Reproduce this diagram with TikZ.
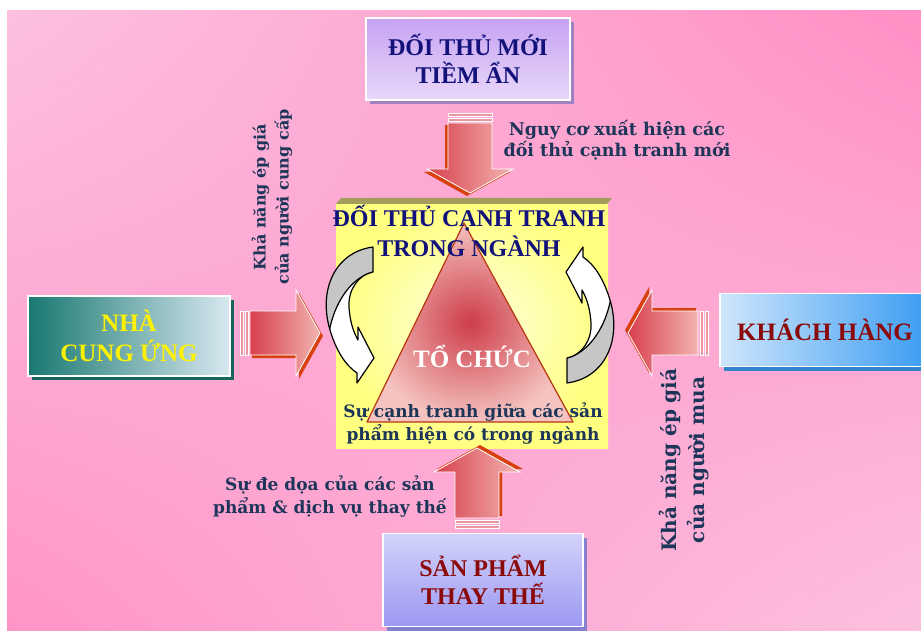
\documentclass[tikz,border=0pt]{standalone}
\usepackage{fontspec}
\setmainfont{Liberation Serif}
\newfontfamily\notefont{DejaVu Serif}
\usetikzlibrary{shadows, shadings}
\definecolor{pinklight}{HTML}{FCC0E0}
\definecolor{pinkdark}{HTML}{FF8FC4}
\definecolor{navytext}{HTML}{12127A}
\definecolor{redtext}{HTML}{8A0A0A}
\definecolor{notetext}{HTML}{1C3558}
\definecolor{arrowred}{HTML}{D8404E}
\definecolor{arrowpeach}{HTML}{F2B4B0}
\definecolor{arrowedge}{HTML}{D8400E}
\definecolor{olive}{HTML}{A49C5C}
\definecolor{lavtop}{HTML}{C6A2F2}
\definecolor{lavbot}{HTML}{E8D8FA}
\definecolor{tealleft}{HTML}{187870}
\definecolor{tealright}{HTML}{D8E8F0}
\definecolor{skyleft}{HTML}{CFE6FC}
\definecolor{skyright}{HTML}{3A9CF2}
\definecolor{bluetop}{HTML}{D2D2FA}
\definecolor{bluebot}{HTML}{9C98F2}
\tikzset{
  forcearrow/.pic={
    \fill[arrowedge] (12,-19) -- (59,-19) -- (59,-40) -- (83,3) -- (59,46) -- (59,25) -- (12,25) -- cycle;
    \shadedraw[left color=arrowred, right color=arrowpeach, draw=white, line width=0.8pt]
      (10,-22) -- (56,-22) -- (56,-43) -- (80,0) -- (56,43) -- (56,22) -- (10,22) -- cycle;
    \draw[white, line width=0.8pt, fill=arrowred!55!white] (0,-22) rectangle (3,22);
    \draw[white, line width=0.8pt, fill=arrowred!55!white] (5,-22) rectangle (8,22);
  },
  swirl/.pic={
    \begin{scope}
      \clip (-97,-68) .. controls (-135,-63) and (-152,-25) .. (-140,15) .. controls (-134,35) and (-125,50) .. (-113,58)
        -- (-113,68) -- (-96,43) -- (-112,12) -- (-112,25) .. controls (-116,18) and (-120,8) .. (-121,-8)
        .. controls (-122,-25) and (-112,-40) .. (-97,-43) -- cycle;
      \fill[white] (-170,-90) rectangle (-80,90);
      \fill[gray!45] (-170,-90) -- (-85,-90) -- (-85,-43) -- (-97,-43) .. controls (-118,-38) and (-138,-12) .. (-142,25) -- (-170,25) -- cycle;
      \draw[line width=1.2pt] (-97,-43) .. controls (-118,-38) and (-138,-12) .. (-142,25);
    \end{scope}
    \draw[line width=1.2pt, line join=round] (-97,-68) .. controls (-135,-63) and (-152,-25) .. (-140,15) .. controls (-134,35) and (-125,50) .. (-113,58)
      -- (-113,68) -- (-96,43) -- (-112,12) -- (-112,25) .. controls (-116,18) and (-120,8) .. (-121,-8)
      .. controls (-122,-25) and (-112,-40) .. (-97,-43) -- cycle;
  }
}
\begin{document}
\begin{tikzpicture}[x=1pt,y=-1pt,
  forcebox/.style={draw=white, line width=1.2pt, inner sep=0pt, align=center,
    font=\bfseries\fontsize{24}{28}\selectfont,
    general shadow={shadow xshift=4pt, shadow yshift=-4pt, fill=#1}},
  title/.style={font=\bfseries\fontsize{24}{31}\selectfont, align=center, inner sep=0pt},
  note/.style={font=\notefont\bfseries\fontsize{17.5}{21}\selectfont, text=notetext, align=center, inner sep=0pt}]
\useasboundingbox (0,0) rectangle (921,631);
\shade[upper left=pinklight, upper right=pinkdark, lower left=pinkdark!95!white, lower right=pinklight] (7,11) rectangle (921,631);
\shade[inner color=yellow!12!white, outer color=yellow!50!white] (336,204) rectangle (608,448);
\fill[olive] (336,204) -- (341,198) -- (612,198) -- (607,204) -- cycle;
\shadedraw[inner color=arrowred!95!black, outer color=arrowpeach!80!white, draw=arrowedge!85!black, line width=1.2pt, line join=round]
  (464,223) -- (573,422) -- (367,422) -- cycle;
\pic (leftswirl) at (470,315) {swirl};
\pic[rotate=180] (rightswirl) at (470,315) {swirl};
\node[title, text=navytext, anchor=base] (rivalry) at (469,257) {ĐỐI THỦ CẠNH TRANH\\TRONG NGÀNH};
\node[font=\bfseries\fontsize{25}{28}\selectfont, text=white, anchor=base, inner sep=0pt] (firm) at (472,367) {TỔ CHỨC};
\node[note, anchor=base, font=\notefont\bfseries\fontsize{17}{23}\selectfont] (rivalnote) at (473,440) {Sự cạnh tranh giữa các sản\\phẩm hiện có trong ngành};
\pic[rotate=-90] (entryarrow) at (470,113) {forcearrow};
\pic (supplyarrow) at (240,333) {forcearrow};
\pic[rotate=180] (buyarrow) at (708,333) {forcearrow};
\pic[rotate=90] (substarrow) at (477,528) {forcearrow};
\node[note, anchor=base] (entrynote) at (617,157) {Nguy cơ xuất hiện các\\đối thủ cạnh tranh mới};
\node[note, anchor=base, font=\notefont\bfseries\fontsize{17}{23}\selectfont] (substnote) at (330,513) {Sự đe dọa của các sản\\phẩm \& dịch vụ thay thế};
\node[note, rotate=90, font=\notefont\bfseries\fontsize{16}{23}\selectfont] (supplynote) at (272,197) {Khả năng ép giá\\của người cung cấp};
\node[note, rotate=90, font=\notefont\bfseries\fontsize{20}{28}\selectfont] (buynote) at (684,460) {Khả năng ép giá\\của người mua};
\node[forcebox=lavtop!80!black, top color=lavtop, bottom color=lavbot, text=navytext,
  minimum width=204, minimum height=82] (entrants) at (468,59) {ĐỐI THỦ MỚI\\TIỀM ẨN};
\node[forcebox=tealleft!85!black, left color=tealleft, right color=tealright, text=yellow,
  font=\bfseries\fontsize{25}{30}\selectfont, minimum width=202, minimum height=80] (suppliers) at (129,336) {NHÀ\\CUNG ỨNG};
\node[forcebox=skyright!85!black, left color=skyleft, right color=skyright, text=redtext,
  font=\bfseries\fontsize{25}{28}\selectfont, minimum width=210, minimum height=73] (buyers) at (825,330) {KHÁCH HÀNG};
\node[forcebox=bluebot!85!black, top color=bluetop, bottom color=bluebot, text=redtext,
  minimum width=200, minimum height=93] (substitutes) at (483,580) {SẢN PHẨM\\THAY THẾ};
\end{tikzpicture}
\end{document}
